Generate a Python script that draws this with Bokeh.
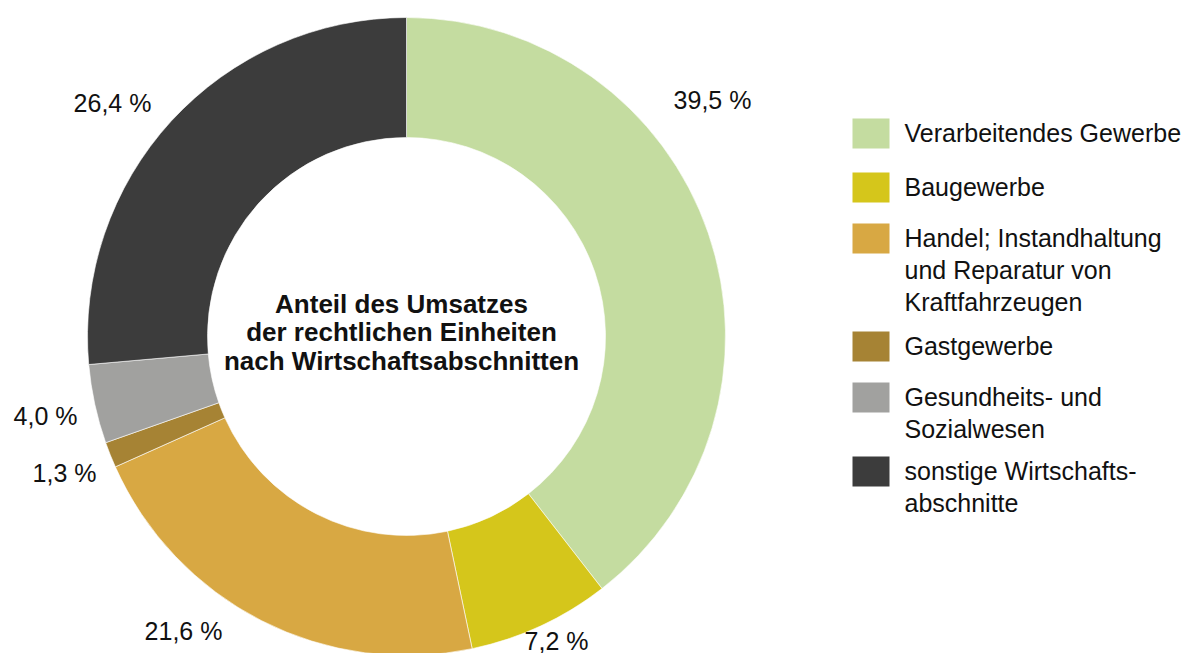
import math
from bokeh.plotting import figure
from bokeh.models import Range1d, ColumnDataSource
from bokeh.core.properties import value
from bokeh.embed import file_html
from bokeh.resources import INLINE

# ---- data ----
categories = [
    "Verarbeitendes Gewerbe",
    "Baugewerbe",
    "Handel; Instandhaltung und Reparatur von Kraftfahrzeugen",
    "Gastgewerbe",
    "Gesundheits- und Sozialwesen",
    "sonstige Wirtschaftsabschnitte",
]
shares = [39.5, 7.2, 21.6, 1.3, 4.0, 26.4]
share_labels = ["39,5 %", "7,2 %", "21,6 %", "1,3 %", "4,0 %", "26,4 %"]
legend_lines = [
    ["Verarbeitendes Gewerbe"],
    ["Baugewerbe"],
    ["Handel; Instandhaltung", "und Reparatur von", "Kraftfahrzeugen"],
    ["Gastgewerbe"],
    ["Gesundheits- und", "Sozialwesen"],
    ["sonstige Wirtschafts-", "abschnitte"],
]
title_lines = ["Anteil des Umsatzes", "der rechtlichen Einheiten", "nach Wirtschaftsabschnitten"]

# ---- styles / layout ----
colors = ["#C4DCA0", "#D5C61B", "#D8A843", "#A68334", "#A1A19F", "#3C3C3C"]
FW, FH = 1186, 653
def Y(py):
    return FH - py

cx, cy = 406, Y(336)
r_out, r_in = 319, 199
label_px = [712, 556, 183, 64, 45, 112]
label_py = [99, 640, 630, 472, 415, 102]
legend_sq_py = [133, 187, 238, 346, 397, 471]
FONT = "Liberation Sans"

p = figure(width=FW, height=FH, output_backend="svg", toolbar_location=None,
           x_range=Range1d(0, FW), y_range=Range1d(0, FH),
           min_border=0, outline_line_color=None)
p.axis.visible = False
p.grid.visible = False
p.background_fill_color = "white"

# angles (clockwise from top)
total = sum(shares)
starts, ends = [], []
acc = 0.0
for s in shares:
    a0 = math.pi / 2 - 2 * math.pi * acc / total
    acc += s
    a1 = math.pi / 2 - 2 * math.pi * acc / total
    starts.append(a1)
    ends.append(a0)

src = ColumnDataSource(dict(start=starts, end=ends, color=colors))
p.annular_wedge(x=cx, y=cy, inner_radius=r_in, outer_radius=r_out,
                start_angle="start", end_angle="end", direction="anticlock",
                fill_color="color", line_color="white", line_width=0.6, source=src)

# percent labels
p.text(x=label_px, y=[Y(v) for v in label_py], text=share_labels,
       text_font=value(FONT), text_font_size="25px", text_color="#111111",
       text_align="center", text_baseline="middle")

# center title
p.text(x=[401] * 3, y=[Y(303), Y(331.5), Y(360)], text=title_lines,
       text_font=value(FONT), text_font_size="26px", text_font_style="bold",
       text_color="#111111", text_align="center", text_baseline="middle")

# legend
p.rect(x=[870.5] * 6, y=[Y(v) for v in legend_sq_py], width=37, height=30,
       fill_color=colors, line_color=None)
lx, ly, lt = [], [], []
for sq, lines in zip(legend_sq_py, legend_lines):
    for i, t in enumerate(lines):
        lx.append(904)
        ly.append(Y(sq - 1 + 32 * i))
        lt.append(t)
p.text(x=lx, y=ly, text=lt, text_font=value(FONT), text_font_size="25px",
       text_color="#111111", text_align="left", text_baseline="middle")

open("out.html", "w").write(file_html(p, INLINE))
